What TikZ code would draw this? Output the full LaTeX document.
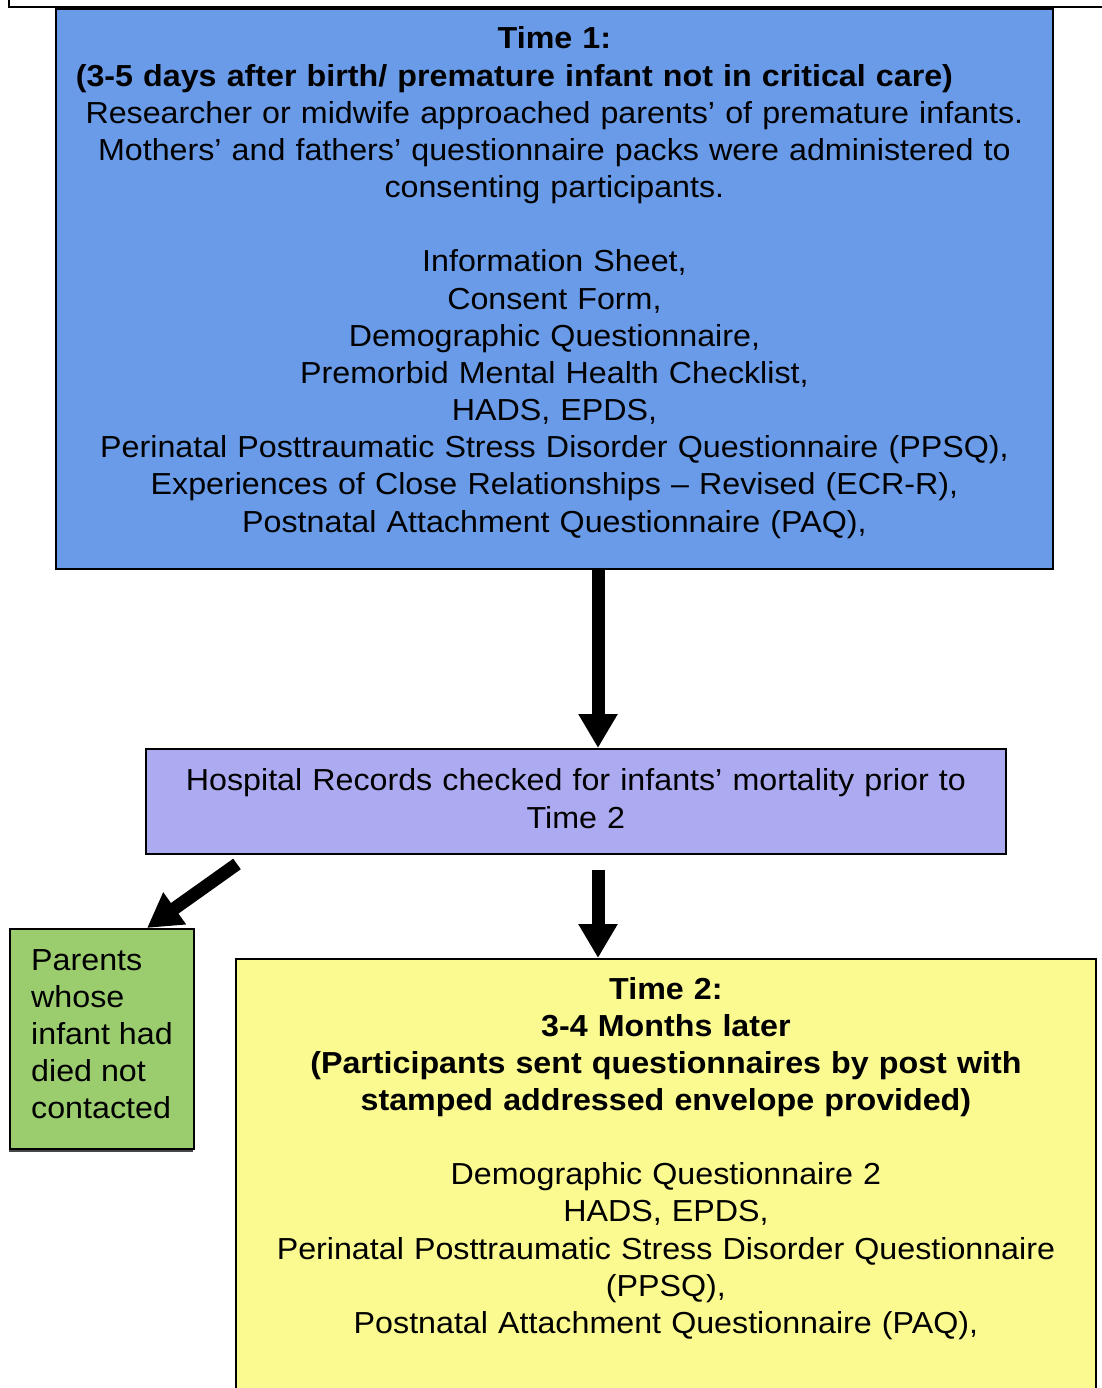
\documentclass[tikz,border=0pt]{standalone}
\usepackage{fontspec}
\setmainfont{Liberation Sans}[FakeStretch=1.06]
\usetikzlibrary{arrows.meta,calc,shadows}

\definecolor{tblue}{RGB}{106,155,232}
\definecolor{hpurple}{RGB}{172,170,240}
\definecolor{tyellow}{RGB}{250,250,145}
\definecolor{dgreen}{RGB}{155,205,110}

\begin{document}
\begin{tikzpicture}[x=0.02cm,y=-0.02cm,>={Triangle[length=0.68cm,width=0.74cm]},
	box/.style={draw=black,line width=0.04cm,inner sep=0pt,align=center,anchor=north west,
		font=\fontsize{17.3}{21.15}\selectfont},
	big/.style={->,line width=0.26cm}]
				\useasboundingbox (0,0) rectangle (1101,1388);
				\draw[line width=0.04cm] (9,-20) -- (9,7) -- (1130,7);

				\node[box,fill=tblue,text width=19.94cm,text height=0.8cm,text depth=10.4cm] (t1) at (55,8) {
						\textbf{Time 1:}\\
						\textbf{(3-5 days after birth/ premature infant not in critical care)}\rule{1.6cm}{0pt}\\
						Researcher or midwife approached parents’ of premature infants.\\
						Mothers’ and fathers’ questionnaire packs were administered to\\
						consenting participants.\\[\baselineskip]
						Information Sheet,\\
						Consent Form,\\
						Demographic Questionnaire,\\
						Premorbid Mental Health Checklist,\\
						HADS, EPDS,\\
						Perinatal Posttraumatic Stress Disorder Questionnaire (PPSQ),\\
						Experiences of Close Relationships – Revised (ECR-R),\\
						Postnatal Attachment Questionnaire (PAQ),};

				\node[box,fill=hpurple,text width=17.2cm,text height=0.84cm,text depth=1.26cm] (hosp) at (145,748) {
						Hospital Records checked for infants’ mortality prior to\\
						Time 2};

				\node[box,fill=tyellow,text width=17.2cm,text height=0.8cm,text depth=10cm] (t2) at (235,958) {
						\textbf{Time 2:}\\
						\textbf{3-4 Months later}\\
						\textbf{(Participants sent questionnaires by post with}\\
						\textbf{stamped addressed envelope provided)}\\[\baselineskip]
						Demographic Questionnaire 2\\
						HADS, EPDS,\\
						Perinatal Posttraumatic Stress Disorder Questionnaire\\
						(PPSQ),\\
						Postnatal Attachment Questionnaire (PAQ),};

				\node[box,fill=dgreen,align=left,minimum width=3.68cm,minimum height=4.4cm,
						drop shadow={shadow xshift=-0.02cm,shadow yshift=-0.07cm,fill=black!80,opacity=0.9}] (died) at (9,928) {
						Parents\\
						whose\\
						infant had\\
						died not\\
						contacted\rule[-0.2cm]{0pt}{0pt}};

				\coordinate (ax) at (598,0);
				\draw[big] (t1.south -| ax) -- (hosp.north -| ax);
				\draw[big,shorten <=0.3cm] (hosp.south -| ax) -- (t2.north -| ax);
				\draw[big] ($(hosp.south west)+(92,9)$) -- ($(died.north west)+(138,0)$);
			\end{tikzpicture}
\end{document}
